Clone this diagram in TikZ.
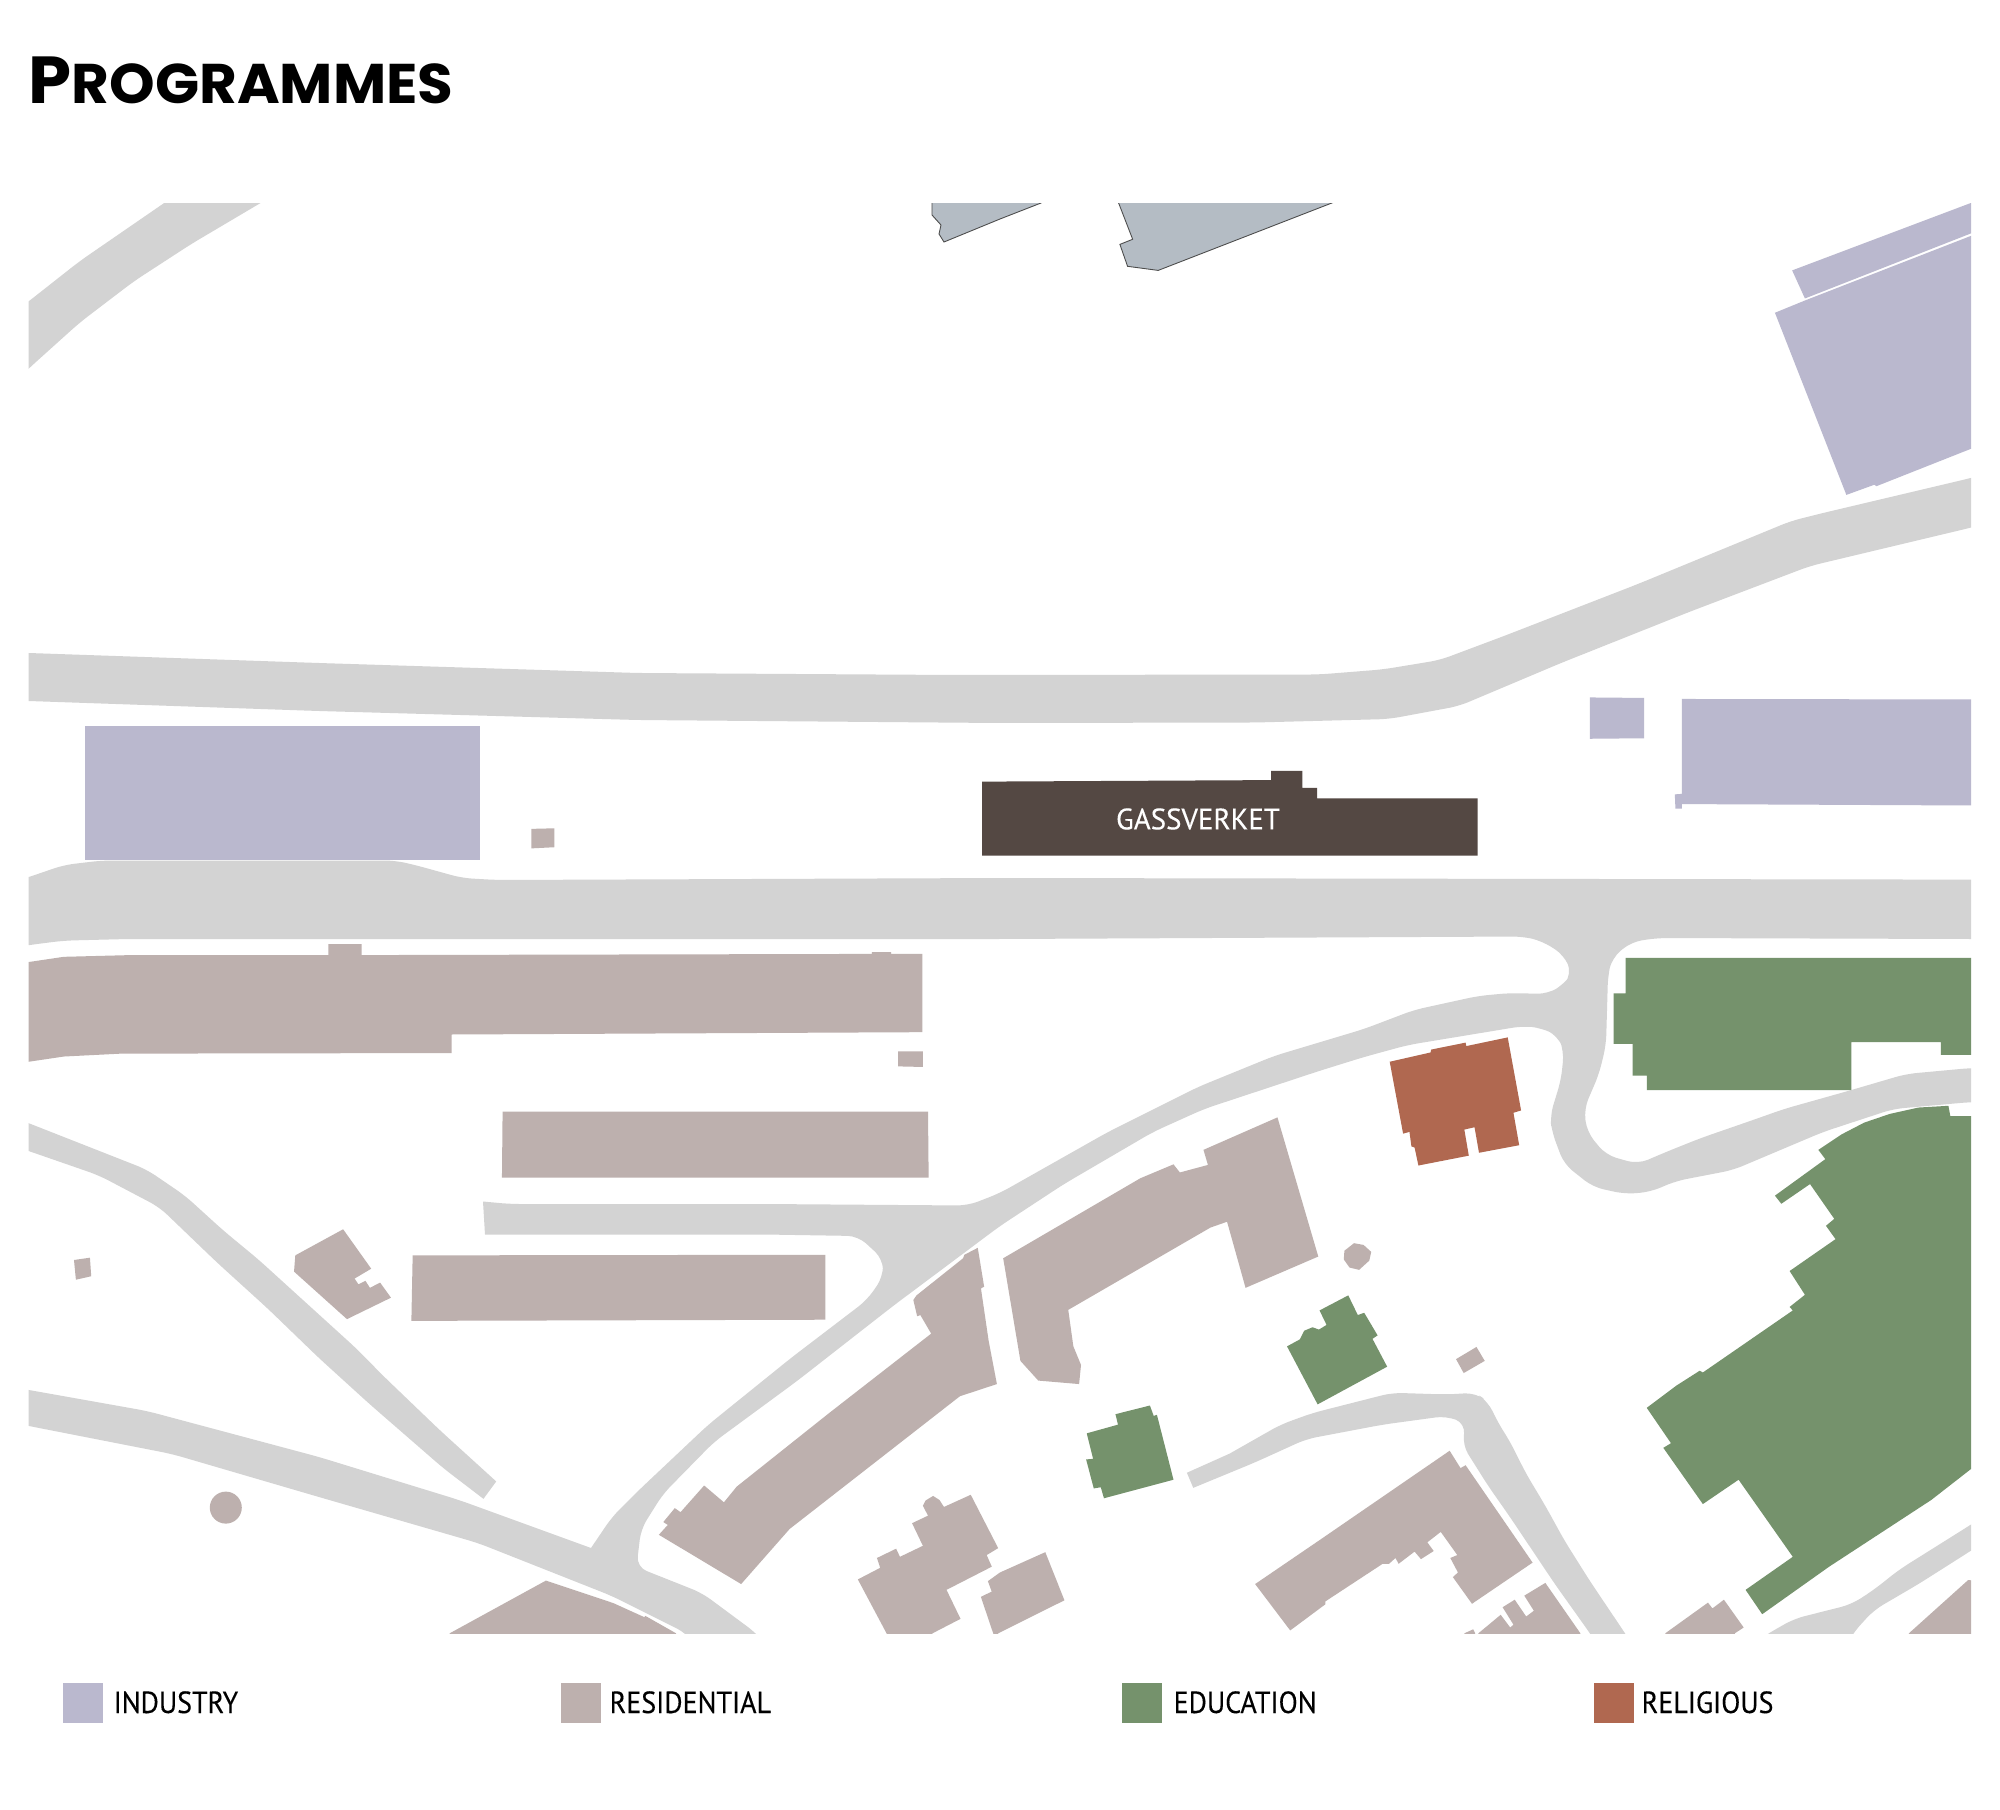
\documentclass[tikz,border=0pt]{standalone}
\usepackage{fontspec}
\setmainfont{PT Sans}[FakeBold=0.25]
\newfontfamily\titlefont{Poppins}
\definecolor{roadc}{HTML}{D3D3D3}
\definecolor{indc}{HTML}{BAB8CE}
\definecolor{resc}{HTML}{BDB0AE}
\definecolor{educ}{HTML}{75926C}
\definecolor{relc}{HTML}{B06850}
\definecolor{gasc}{HTML}{544843}
\definecolor{watc}{HTML}{B4BCC4}
\tikzset{
  q1/.style={xscale=.6378,yscale=.574},
  q2/.style={shift={(1000,150)},xscale=.6378,yscale=.5102},
  q3/.style={shift={(0,900)},xscale=.6378,yscale=.5797},
  q4/.style={shift={(1000,900)},xscale=.6378,yscale=.5797},
  road/.style={fill=roadc,rounded corners=3pt},
  ind/.style={fill=indc},
  res/.style={fill=resc},
  edu/.style={fill=educ},
  rel/.style={fill=relc},
  gas/.style={fill=gasc},
  wat/.style={fill=watc,draw=black!70,line width=.25pt},
  swatchbox/.style={minimum width=0.4cm,minimum height=0.4cm,inner sep=0pt,anchor=north west},
  legtext/.style={font=\fontsize{8.7}{10}\selectfont,anchor=base west,inner sep=0pt,text=black,xscale=.915},
}
\begin{document}
\begin{tikzpicture}[x=0.01cm,y=-0.01cm]
\useasboundingbox (0,0) rectangle (2000,1809);
\fill[white] (0,0) rectangle (2000,1809);
\begin{scope}
\clip (28.7,203) rectangle (1971,1633);
% --- roads ---
\begin{scope}[q1]
\fill[road] (300,321) -- (460,320) -- (408,354) -- (300,425) -- (210,490) -- (125,562) -- (45,642) -- (10,680) -- (10,555) -- (45,525) -- (125,455) -- (257,354) -- cycle;
\end{scope}
\fill[road] (0,652) -- (29,653) -- (319,663) -- (638,673) -- (957,675) -- (1319,674.5) -- (1383,669.4) -- (1440,660) -- (1504,636) -- (1638,584) -- (1791,521) -- (1823,513) -- (1971,478) -- (2000,470) -- (2000,520) -- (1971,527.6) -- (1810,566) -- (1689,612) -- (1561,663) -- (1459,706) -- (1389,719) -- (1255,722.5) -- (1000,723) -- (638,720) -- (319,711) -- (29,701) -- (0,700) -- cycle;
\fill[road] (0,886) -- (29,877) -- (64,865) -- (102,860.5) -- (395,860.5) -- (415,865) -- (462,878) -- (497,880) -- (1000,878) -- (1971,879.6) -- (2000,880) -- (2000,939) -- (1971,939) -- (1657,938) -- (1631,942) -- (1612,958) -- (1608,975) -- (1606,1045) -- (1599,1074) -- (1584,1109) -- (1587,1132) -- (1606,1155) -- (1638,1164) -- (1666,1152) -- (1701,1138) -- (1753,1120) -- (1784,1109) -- (1848,1091) -- (1906,1074) -- (1971,1068) -- (2000,1068) -- (2000,1102) -- (1971,1102) -- (1893,1109) -- (1823,1132) -- (1733,1170) -- (1676,1181) -- (1650,1192) -- (1625,1194) -- (1593,1187) -- (1564,1164) -- (1552,1132) -- (1550,1116) -- (1561,1080) -- (1564,1051) -- (1558,1036) -- (1542,1028) -- (1523,1026) -- (1408,1045) -- (1364,1057) -- (1319,1071) -- (1204,1109) -- (1153,1132) -- (1064,1184) -- (1000,1226) -- (893,1306) -- (797,1381) -- (714,1442) -- (663,1494) -- (641,1529) -- (636.5,1567) -- (702,1593) -- (756,1633) -- (775,1655) -- (700,1650) -- (686,1633) -- (612,1596) -- (478,1543) -- (319,1497) -- (172,1454) -- (29,1426) -- (0,1420) -- (0,1385) -- (29,1390) -- (147,1411) -- (319,1457) -- (459,1500) [sharp corners] -- (591,1548) [rounded corners=3pt] -- (612,1517) -- (638,1491) -- (708,1425) -- (791,1358) -- (867,1300) -- (883,1277) -- (883,1259) -- (858,1236) -- (765,1234.5) [sharp corners] -- (485,1234.5) -- (483,1201.5) [rounded corners=3pt] -- (510,1204) -- (765,1204) -- (968,1205.5) -- (1000,1193) -- (1108,1132) -- (1198,1087) -- (1274,1056) -- (1364,1029) -- (1414,1010) -- (1478,996) -- (1510,993) -- (1548,994) -- (1564,984) -- (1572,974) -- (1564,955) -- (1542,941) -- (1523,936.5) -- (1000,939) -- (128,939) -- (64,940.6) -- (29,945) -- (0,950) -- cycle;
\begin{scope}[q3]
\fill[road] (10,370) -- (45,385) -- (230,465) -- (290,510) -- (350,570) -- (405,620) -- (480,695) -- (560,775) -- (600,820) -- (690,915) [sharp corners] -- (778,1003) -- (758,1033) [rounded corners=3pt] -- (695,980) -- (580,870) -- (500,790) -- (420,705) -- (340,625) -- (250,530) -- (155,475) -- (45,433) -- (10,420) -- cycle;
\end{scope}
\begin{scope}[q4]
\fill[road] (360,955) [rounded corners=3pt] -- (440,905) -- (490,885) -- (615,850) -- (700,853) -- (745,850) -- (765,865) -- (780,900) -- (800,935) -- (825,990) -- (855,1045) -- (885,1105) -- (925,1175) -- (980,1265) -- (995,1290) -- (940,1290) -- (925,1265) -- (870,1180) -- (800,1065) -- (765,1010) -- (725,940) -- (730,903) -- (700,890) -- (600,905) -- (480,930) -- (400,970) [sharp corners] -- (303,1014) -- (293,988) -- cycle;
\fill[road] (1170,1290) -- (1205,1265) -- (1245,1240) -- (1335,1215) -- (1370,1190) -- (1410,1155) -- (1523,1077) -- (1560,1050) -- (1560,1095) -- (1523,1122) -- (1440,1180) -- (1370,1225) -- (1337,1265) -- (1325,1290) -- cycle;
\end{scope}
% --- water / grey ---
\fill[wat] (932,190) -- (932,215) -- (941,225) -- (939,234) -- (944,242) -- (1000,219) -- (1041,203) -- (1060,190) -- cycle;
\begin{scope}[q2]
\fill[wat] (180,90) -- (186,104) -- (208,175) -- (188,185) -- (200,228) -- (248,236) -- (520,104) -- (550,90) -- cycle;
% --- industry ---
\fill[ind] (1242,236) -- (1560,86) -- (1560,145) -- (1262,291) -- cycle;
\fill[ind] (1215,319) -- (1262,295) -- (1560,150) -- (1560,567) -- (1374,659) -- (1371,656) -- (1327,676) -- cycle;
\fill[ind] (925,1073) -- (1010,1074) -- (1010,1153) -- (925,1154) -- cycle;
\fill[ind] (1069,1076) -- (1560,1077) -- (1560,1285) -- (1069,1282) -- (1069,1291) -- (1059,1291) -- (1058,1263) -- (1069,1262) -- cycle;
% --- Gassverket ---
\fill[gas] (-28,1238) -- (425,1235) -- (425,1217) -- (474,1217) -- (474,1250) -- (497,1250) -- (497,1271) -- (749,1271) -- (749,1383) -- (-28,1383) -- cycle;
\end{scope}
\begin{scope}[q1]
\fill[ind] (133,1264) rectangle (753,1499);
\fill[res] (833,1444) -- (869,1443) -- (869,1476) -- (833,1478) -- cycle;
\end{scope}
% --- residential ---
\begin{scope}[q3]
\fill[res] (10,112) -- (45,107) -- (100,98) -- (205,95) -- (515,95) -- (515,76) -- (567,76) -- (567,95) -- (1367,93) -- (1367,90) -- (1397,90) -- (1397,93) -- (1446,93) -- (1446,228) -- (708,232) -- (708,264) -- (190,265) -- (100,270) -- (45,279) -- (10,285) -- cycle;
\fill[res] (1408,261) -- (1447,261) -- (1447,288) -- (1408,287) -- cycle;
\fill[res] (788,365) -- (1455,365) -- (1456,479) -- (787,479) -- cycle;
\fill[res] (647,613) -- (1294,612) -- (1294,724) -- (645,726) -- cycle;
\fill[res] (116,621) -- (141,617) -- (143,649) -- (119,655) -- cycle;
\fill[res] (463,613) -- (538,568) -- (582,636) -- (556,653) -- (562,663) -- (573,657) -- (580,669) -- (596,660) -- (613,686) -- (544,723) -- (461,641) -- cycle;
\fill[res] (705,1265) -- (856,1174) -- (962,1213) -- (1010,1237) -- (1012,1235) -- (1060,1265) -- (1060,1290) -- (705,1290) -- cycle;
\fill[res] (1033,1095) -- (1047,1078) -- (1040,1073) -- (1058,1049) -- (1067,1056) -- (1104,1010) -- (1135,1039) -- (1155,1012) -- (1300,885) -- (1460,748) -- (1443,716) -- (1438,718) -- (1432,690) -- (1437,682) -- (1510,618) -- (1512,612) -- (1533,600) -- (1543,667) -- (1538,670) -- (1550,760) -- (1563,835) -- (1505,856) -- (1238,1085) -- (1162,1180) -- cycle;
\fill[res] (1345,1172) -- (1380,1152) -- (1375,1135) -- (1405,1119) -- (1411,1133) -- (1447,1114) -- (1430,1075) -- (1455,1062) -- (1447,1045) -- (1451,1036) -- (1463,1028) -- (1473,1035) -- (1480,1047) -- (1522,1026) -- (1565,1118) -- (1547,1130) -- (1555,1150) -- (1484,1190) -- (1506,1240) -- (1462,1265) -- (1462,1290) -- (1390,1290) -- (1390,1265) -- cycle;
\end{scope}
\fill[res] (225.8,1507.6) circle (16);
\begin{scope}[q4]
\fill[res] (-30,1202) -- (-13,1193) -- (-19,1175) -- (0,1160) -- (71,1125) -- (101,1208) -- (-3,1265) -- (-3,1290) -- cycle;
\fill[res] (5,618) -- (220,480) -- (272,456) -- (282,470) -- (326,457) -- (319,431) -- (435,375) -- (499,615) -- (385,669) -- (356,555) -- (330,565) -- (107,707) -- (115,770) -- (127,802) -- (124,835) -- (60,829) -- (32,795) -- cycle;
\fill[res] (540,605) -- (555,592) -- (570,595) -- (582,607) -- (579,622) -- (563,638) -- (548,634) -- (539,620) -- cycle;
\fill[res] (715,792) -- (747,771) -- (760,795) -- (727,816) -- cycle;
\fill[res] (400,1180) -- (500,1105) -- (705,950) -- (722,980) -- (730,975) -- (835,1143) -- (740,1214) -- (710,1168) -- (718,1160) -- (706,1135) -- (717,1130) -- (691,1090) -- (670,1108) -- (680,1123) -- (660,1137) -- (650,1124) -- (625,1145) -- (620,1135) -- (610,1145) -- (600,1145) -- (510,1210) -- (510,1215) -- (455,1260) -- cycle;
\fill[res] (750,1265) -- (785,1233) -- (800,1255) -- (805,1250) -- (788,1220) -- (807,1207) -- (825,1236) -- (837,1226) -- (822,1200) -- (855,1178) -- (910,1265) -- (910,1290) -- (750,1290) -- cycle;
\fill[res] (728,1265) -- (742,1258) -- (745,1265) -- (745,1290) -- (728,1290) -- cycle;
\fill[res] (1043,1265) -- (1110,1212) -- (1117,1222) -- (1135,1207) -- (1166,1255) -- (1152,1265) -- (1152,1290) -- (1043,1290) -- cycle;
\fill[res] (1425,1265) -- (1518,1173) -- (1560,1178) -- (1560,1290) -- (1425,1290) -- cycle;
% --- education ---
\fill[edu] (981,100) -- (1560,100) -- (1560,267) -- (1475,267) -- (1475,245) -- (1335,245) -- (1335,328) -- (1014,328) -- (1014,303) -- (992,303) -- (992,248) -- (962,248) -- (962,161) -- (981,161) -- cycle;
\fill[edu] (1487,355) -- (1490,373) -- (1560,373) -- (1560,950) -- (1523,981) -- (1460,1035) -- (1300,1150) -- (1195,1232) -- (1169,1190) -- (1243,1133) -- (1158,1000) -- (1102,1042) -- (1040,945) -- (1052,937) -- (1014,876) -- (1060,838) -- (1097,812) -- (1102,815) -- (1243,708) -- (1238,702) -- (1262,681) -- (1238,640) -- (1310,585) -- (1295,562) -- (1308,550) -- (1270,490) -- (1225,524) -- (1215,510) -- (1294,447) -- (1283,431) -- (1320,404) -- (1355,384) -- (1395,369) -- (1440,358) -- cycle;
\fill[edu] (450,770) -- (470,758) -- (477,743) -- (490,737) -- (500,741) -- (512,733) -- (501,708) -- (546,682) -- (561,716) -- (571,712) -- (592,751) -- (584,757) -- (607,805) -- (498,870) -- cycle;
\fill[edu] (136,920) -- (185,905) -- (181,887) -- (235,872) -- (241,890) -- (246,888) -- (272,1000) -- (163,1032) -- (158,1013) -- (147,1015) -- (135,965) -- (146,964) -- cycle;
% --- religious ---
\fill[rel] (611,279) -- (675,263) -- (676,258) -- (730,246) -- (731,252) -- (796,237) -- (817,363) -- (805,367) -- (814,423) -- (751,436) -- (744,392) -- (728,396) -- (735,441) -- (656,458) -- (650,427) -- (645,425) -- (642,400) -- (632,403) -- cycle;
\end{scope}
\end{scope}
% --- labels ---
\node[anchor=base west,inner sep=0pt,xscale=1.037] (title) at (28,103) {\titlefont\bfseries{\fontsize{18.9}{20}\selectfont P}{\fontsize{15.9}{18}\selectfont ROGRAMMES}};
\node[font=\fontsize{8.4}{10}\selectfont,text=white,inner sep=0pt,xscale=.98] (gassverket) at (1198,819) {GASSVERKET};
% --- legend ---
\node[swatchbox,fill=indc] (s1) at (62.5,1682) {};
\node[swatchbox,fill=resc] (s2) at (560,1682) {};
\node[swatchbox,fill=educ] (s3) at (1121,1682) {};
\node[swatchbox,fill=relc] (s4) at (1593,1682) {};
\node[legtext] (t1) at (113,1713) {INDUSTRY};
\node[legtext] (t2) at (609,1713) {RESIDENTIAL};
\node[legtext] (t3) at (1173,1713) {EDUCATION};
\node[legtext] (t4) at (1641,1713) {RELIGIOUS};
\end{tikzpicture}
\end{document}
